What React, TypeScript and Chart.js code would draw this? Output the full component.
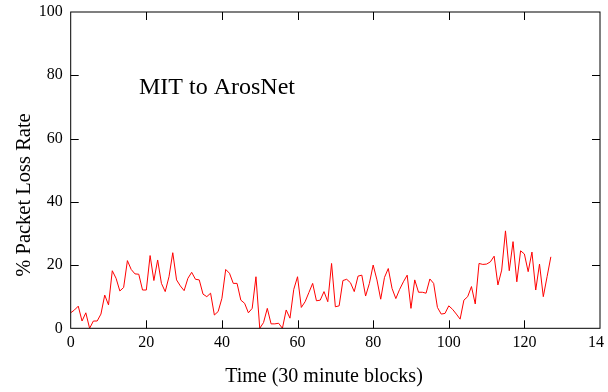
import React, { useEffect, useRef } from "react";
import { Chart, registerables } from "chart.js";

Chart.register(...registerables);

const chartTitle = "MIT to ArosNet";
const xAxisTitle = "Time (30 minute blocks)";
const yAxisTitle = "% Packet Loss Rate";

const xTickValues = [0, 20, 40, 60, 80, 100, 120, 140];
const yTickValues = [0, 20, 40, 60, 80, 100];

// % packet loss per 30-minute block (block index 0..127)
const lossRate = [
  4.9, 5.8, 7.0, 2.3, 4.9, 0, 2.3, 2.3, 4.5, 10.5,
  7.4, 18.2, 15.8, 11.8, 12.9, 21.4, 18.6, 17.2, 17.1, 12.1,
  12.1, 23.0, 15.1, 21.6, 14.2, 11.6, 16.3, 23.9, 15.3, 13.4,
  11.9, 15.8, 17.7, 15.5, 15.3, 10.8, 10.0, 11.1, 4.2, 5.3,
  9.5, 18.6, 17.4, 14.2, 14.2, 8.9, 7.9, 4.9, 6.3, 16.3,
  0, 1.8, 6.3, 1.4, 1.4, 1.6, 0, 5.8, 3.2, 12.3,
  16.3, 6.6, 8.4, 11.3, 14.2, 8.7, 8.9, 11.6, 8.4, 20.5,
  6.8, 7.1, 15.1, 15.5, 14.4, 11.6, 16.5, 16.8, 10.2, 14.2,
  20.0, 15.3, 9.2, 16.1, 18.9, 12.6, 9.4, 12.3, 14.7, 16.8,
  6.3, 15.3, 11.4, 11.4, 11.1, 15.6, 14.2, 6.6, 4.5, 4.7,
  7.1, 6.0, 4.5, 2.9, 8.9, 10.0, 13.2, 7.7, 20.5, 20.2,
  20.3, 21.0, 22.8, 13.7, 18.4, 30.8, 18.2, 27.4, 14.7, 24.5,
  23.5, 17.9, 24.1, 12.1, 20.3, 10.0, 16.3, 22.6,
];

const FONT = "'Liberation Serif', 'DejaVu Serif', serif";
const CANVAS_W = 604;
const CANVAS_H = 392;

const framePlugin = {
  id: "frame",
  afterDraw(chart: any) {
    const { ctx, chartArea } = chart;
    const xs = chart.scales.x;
    const ys = chart.scales.y;
    const { left, right, top, bottom } = chartArea;
    ctx.save();
    ctx.strokeStyle = "#000";
    ctx.lineWidth = 1;
    ctx.strokeRect(left, top, right - left, bottom - top);
    const tl = 8;
    ctx.beginPath();
    xTickValues.forEach((v) => {
      const px = Math.round(xs.getPixelForValue(v)) + 0.5;
      if (px <= left + 1 || px >= right - 1) return;
      ctx.moveTo(px, bottom);
      ctx.lineTo(px, bottom - tl);
      ctx.moveTo(px, top);
      ctx.lineTo(px, top + tl);
    });
    yTickValues.forEach((v) => {
      const py = Math.round(ys.getPixelForValue(v)) + 0.5;
      if (py <= top + 1 || py >= bottom - 1) return;
      ctx.moveTo(left, py);
      ctx.lineTo(left + tl, py);
      ctx.moveTo(right, py);
      ctx.lineTo(right - tl, py);
    });
    ctx.stroke();

    ctx.fillStyle = "#000";
    ctx.textBaseline = "middle";
    ctx.font = `24px ${FONT}`;
    ctx.textAlign = "left";
    ctx.fillText(chartTitle, 139, 88);

    ctx.font = `20px ${FONT}`;
    ctx.textAlign = "center";
    ctx.fillText(xAxisTitle, 324, 377);

    ctx.translate(25, 195);
    ctx.rotate(-Math.PI / 2);
    ctx.font = `20.5px ${FONT}`;
    ctx.fillText(yAxisTitle, 0, 0);
    ctx.restore();
  },
};

export default function App() {
  const ref = useRef<HTMLCanvasElement | null>(null);

  useEffect(() => {
    if (!ref.current) return;
    const chart = new Chart(ref.current, {
      type: "line",
      data: {
        datasets: [
          {
            data: lossRate.map((v, i) => ({ x: i, y: v })),
            borderColor: "#ff0000",
            borderWidth: 1,
            pointRadius: 0,
            tension: 0,
            fill: false,
          },
        ],
      },
      options: {
        animation: false,
        responsive: false,
        devicePixelRatio: 1,
        layout: { padding: { top: 12, right: CANVAS_W - 600, left: 0, bottom: 0 } },
        plugins: {
          legend: { display: false },
          tooltip: { enabled: false },
          title: { display: false },
        },
        scales: {
          x: {
            type: "linear",
            min: 0,
            max: 140,
            afterBuildTicks: (s: any) => {
              s.ticks = xTickValues.map((v) => ({ value: v }));
            },
            grid: { display: false, drawTicks: false },
            border: { display: false },
            ticks: {
              color: "#000",
              font: { family: FONT, size: 16 },
              padding: 5,
              maxRotation: 0,
              autoSkip: false,
            },
            afterFit: (s: any) => {
              s.height = CANVAS_H - 328.3;
              s.paddingLeft = 0;
              s.paddingRight = 0;
            },
          },
          y: {
            type: "linear",
            min: 0,
            max: 100,
            afterBuildTicks: (s: any) => {
              s.ticks = yTickValues.map((v) => ({ value: v }));
            },
            grid: { display: false, drawTicks: false },
            border: { display: false },
            ticks: {
              color: "#000",
              font: { family: FONT, size: 16 },
              padding: 8,
              autoSkip: false,
            },
            afterFit: (s: any) => {
              s.width = 70.7;
              s.paddingTop = 0;
              s.paddingBottom = 0;
            },
          },
        },
      },
      plugins: [framePlugin],
    } as any);
    return () => chart.destroy();
  }, []);

  return (
    <div
      style={{
        position: "fixed",
        left: 0,
        top: 0,
        width: 608,
        height: 392,
        background: "#fff",
      }}
    >
      <canvas ref={ref} width={CANVAS_W} height={CANVAS_H} style={{ display: "block" }} />
    </div>
  );
}
